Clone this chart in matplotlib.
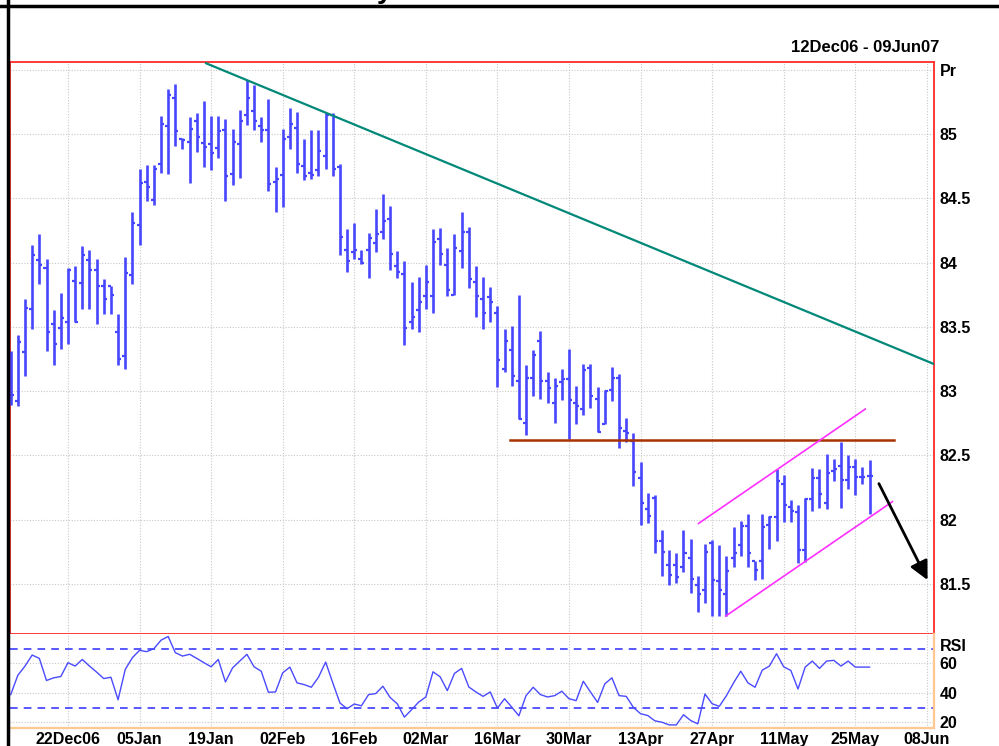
import matplotlib
matplotlib.use("Agg")
import matplotlib.pyplot as plt
from matplotlib.lines import Line2D

# daily bars 12Dec06 .. 29May07, x = weekday index
opens = [83.09, 82.92, 83.30, 83.64, 84.02, 83.96, 83.52, 83.49, 83.54, 83.86,
         83.84, 84.02, 83.94, 83.82, 83.82, 83.46, 83.27, 83.90, 84.29, 84.63,
         84.49, 84.77, 85.06, 85.28, 84.96, 84.94, 85.10, 84.93, 84.92, 84.89,
         85.03, 84.69, 84.92, 85.15, 85.18, 85.06, 85.03, 84.63, 84.68, 84.98,
         85.05, 84.75, 84.70, 84.72, 84.83, 85.15, 84.74, 84.10, 84.08, 84.03,
         84.10, 84.15, 84.24, 84.34, 83.97, 83.91, 83.54, 83.63, 83.74, 83.74,
         84.18, 83.98, 83.75, 84.09, 84.24, 83.85, 83.72, 83.73, 83.61, 83.17,
         83.32, 83.08, 82.75, 83.10, 83.39, 83.08, 82.91, 83.07, 83.09, 82.91,
         82.86, 83.18, 82.94, 82.74, 83.01, 83.10, 82.69, 82.61, 82.32, 82.08,
         82.17, 81.83, 81.65, 81.65, 81.63, 81.70, 81.49, 81.45, 81.82, 81.52,
         81.42, 81.70, 81.80, 81.95, 81.68, 81.68, 81.96, 82.02, 82.28, 82.10,
         82.06, 81.76, 82.16, 82.32, 82.13, 82.38, 82.42, 82.31, 82.41, 82.33,
         82.34]
highs = [83.31, 83.44, 83.72, 84.14, 84.22, 84.03, 83.63, 83.76, 83.96, 83.97,
         84.13, 84.10, 84.03, 83.87, 83.82, 83.60, 84.04, 84.39, 84.73, 84.76,
         84.76, 85.14, 85.35, 85.39, 84.97, 85.13, 85.16, 85.26, 85.14, 85.14,
         85.12, 85.04, 85.19, 85.42, 85.38, 85.13, 85.27, 84.74, 85.04, 85.20,
         85.17, 84.96, 85.03, 85.03, 85.16, 85.16, 84.77, 84.26, 84.31, 84.10,
         84.23, 84.42, 84.53, 84.44, 84.09, 84.01, 83.85, 83.89, 83.98, 84.26,
         84.27, 84.11, 84.22, 84.39, 84.28, 83.97, 83.89, 83.81, 83.66, 83.48,
         83.51, 83.75, 83.20, 83.32, 83.47, 83.15, 83.10, 83.17, 83.33, 83.04,
         83.21, 83.21, 83.03, 83.01, 83.19, 83.13, 82.79, 82.67, 82.45, 82.21,
         82.19, 81.92, 81.76, 81.74, 81.92, 81.85, 81.56, 81.81, 81.84, 81.80,
         81.72, 81.94, 81.99, 82.04, 81.68, 82.04, 82.03, 82.39, 82.35, 82.15,
         82.11, 82.17, 82.40, 82.39, 82.51, 82.47, 82.60, 82.50, 82.47, 82.41,
         82.46]
lows = [82.89, 82.88, 83.12, 83.48, 83.83, 83.31, 83.20, 83.33, 83.37, 83.54,
        83.64, 83.64, 83.52, 83.60, 83.60, 83.20, 83.17, 83.83, 84.14, 84.48,
        84.45, 84.70, 84.69, 84.91, 84.88, 84.62, 84.86, 84.74, 84.72, 84.81,
        84.48, 84.60, 84.66, 85.07, 85.03, 84.94, 84.56, 84.39, 84.43, 84.88,
        84.70, 84.64, 84.65, 84.67, 84.73, 84.67, 84.06, 83.93, 84.03, 83.99,
        83.88, 84.08, 84.18, 83.94, 83.88, 83.36, 83.48, 83.46, 83.64, 83.61,
        83.98, 83.74, 83.75, 83.96, 83.80, 83.58, 83.48, 83.54, 83.03, 83.15,
        83.04, 82.78, 82.66, 82.96, 82.94, 82.91, 82.75, 82.93, 82.63, 82.74,
        82.81, 82.87, 82.68, 82.74, 82.92, 82.56, 82.60, 82.26, 81.96, 81.97,
        81.74, 81.56, 81.49, 81.51, 81.59, 81.43, 81.28, 81.35, 81.25, 81.25,
        81.25, 81.63, 81.72, 81.63, 81.53, 81.54, 81.77, 81.83, 81.98, 81.98,
        81.66, 81.67, 82.07, 82.09, 82.08, 82.30, 82.09, 82.24, 82.19, 82.28,
        82.04]
closes = [82.97, 83.38, 83.65, 84.06, 83.98, 83.46, 83.37, 83.57, 83.94, 83.54,
          84.06, 83.94, 83.82, 83.72, 83.75, 83.25, 83.92, 84.31, 84.62, 84.59,
          84.73, 85.08, 85.30, 85.02, 84.95, 85.04, 84.98, 84.90, 84.85, 85.02,
          84.67, 84.94, 85.10, 85.28, 85.10, 85.03, 84.61, 84.65, 84.96, 85.08,
          84.77, 84.67, 84.68, 84.87, 85.15, 84.73, 84.20, 84.01, 84.10, 84.00,
          84.19, 84.22, 84.32, 84.07, 83.93, 83.49, 83.58, 83.69, 83.85, 84.16,
          84.07, 83.79, 84.11, 84.24, 83.87, 83.74, 83.61, 83.69, 83.24, 83.39,
          83.12, 82.78, 83.10, 83.28, 83.08, 83.02, 83.04, 83.09, 82.93, 82.88,
          83.16, 82.96, 82.68, 83.00, 83.10, 82.71, 82.67, 82.37, 82.13, 82.03,
          81.83, 81.75, 81.57, 81.55, 81.74, 81.54, 81.42, 81.75, 81.53, 81.45,
          81.60, 81.74, 81.95, 81.74, 81.61, 81.94, 82.02, 82.30, 82.11, 82.07,
          81.76, 82.16, 82.32, 82.20, 82.36, 82.39, 82.31, 82.41, 82.33, 82.33,
          82.34]
rsi = [38.8, 52.0, 58.2, 65.7, 63.4, 48.4, 50.2, 51.1, 60.5, 58.2,
       62.7, 58.2, 54.1, 49.7, 50.6, 35.3, 55.9, 63.9, 68.9, 68.0,
       70.0, 75.8, 78.3, 67.3, 65.0, 66.2, 63.4, 60.5, 57.7, 62.7,
       47.4, 57.0, 61.6, 66.2, 57.7, 54.7, 40.4, 40.6, 53.6, 57.5,
       46.8, 45.6, 43.8, 50.6, 60.9, 46.8, 33.1, 29.2, 32.4, 31.2,
       38.8, 39.5, 44.5, 36.9, 32.6, 23.5, 28.5, 33.7, 37.2, 54.3,
       50.9, 41.5, 53.2, 56.6, 44.0, 40.6, 37.6, 40.6, 29.6, 36.0,
       30.3, 24.4, 38.1, 43.8, 38.8, 37.2, 38.1, 41.1, 36.0, 34.7,
       47.9, 40.6, 33.5, 46.1, 50.2, 38.1, 37.6, 30.1, 25.8, 24.6,
       21.0, 20.0, 18.2, 18.2, 25.1, 21.2, 18.9, 39.2, 32.6, 30.8,
       38.1, 46.8, 54.7, 46.8, 43.8, 55.4, 58.2, 66.6, 57.7, 55.2,
       42.6, 57.5, 61.6, 56.6, 61.6, 62.1, 58.2, 61.6, 57.5, 57.5,
       57.5]

date_ticks = [8, 18, 28, 38, 48, 58, 68, 78, 88, 98, 108, 118, 128]
date_labels = ["22Dec06", "05Jan", "19Jan", "02Feb", "16Feb", "02Mar", "16Mar",
               "30Mar", "13Apr", "27Apr", "11May", "25May", "08Jun"]
price_ticks = [81.5, 82, 82.5, 83, 83.5, 84, 84.5, 85, 85.5]
price_labels = ["81.5", "82", "82.5", "83", "83.5", "84", "84.5", "85", "Pr"]
rsi_ticks = [20, 40, 60]

# hand drawn studies: (x index, price)
trend_down = [(27.3, 85.55), (129.0, 83.21)]
support = [(69.7, 82.62), (123.4, 82.62)]
channel_top = [(96.1, 81.97), (119.4, 82.86)]
channel_bot = [(99.9, 81.25), (123.2, 82.14)]
arrow_from = (121.3, 82.28)
arrow_to = (128.1, 81.53)

W, H = 999, 746
fig = plt.figure(figsize=(W / 100, H / 100), dpi=100)
font = "Liberation Sans"
bar_col = "#4646ff"
grid_kw = dict(color="#c8c8c8", linestyle=(0, (1, 1.5)), linewidth=0.8)

ax = fig.add_axes([10 / W, (H - 634) / H, 924 / W, 572 / H])
rx = fig.add_axes([10 / W, (H - 727.7) / H, 924 / W, 93.7 / H], sharex=ax)

xs = list(range(len(closes)))
ax.vlines(xs, lows, highs, color=bar_col, linewidth=1.9, zorder=3)
ax.hlines(opens, [x - 0.42 for x in xs], xs, color=bar_col, linewidth=1.6, zorder=3)
ax.hlines(closes, xs, [x + 0.42 for x in xs], color=bar_col, linewidth=1.6, zorder=3)

for pts, col, lw in [(trend_down, "#008878", 1.6), (support, "#a83200", 1.8),
                     (channel_top, "#ff30ff", 1.2), (channel_bot, "#ff30ff", 1.2)]:
    ax.plot([p[0] for p in pts], [p[1] for p in pts], color=col, linewidth=lw, zorder=4)
ax.annotate("", xy=arrow_to, xytext=arrow_from,
            arrowprops=dict(arrowstyle="-|>", color="black", lw=2, mutation_scale=28,
                            shrinkA=0, shrinkB=0), zorder=5)

ax.set_xlim(-0.1, 129.0)
ax.set_ylim(81.11, 85.56)
ax.set_yticks(price_ticks)
ax.set_yticklabels(price_labels)
ax.set_xticks(date_ticks)
ax.grid(True, **grid_kw)
ax.yaxis.tick_right()
ax.tick_params(axis="y", length=0, pad=4)
ax.tick_params(axis="x", length=0, labelbottom=False)
for s in ax.spines.values():
    s.set_color("#ff2a2a")
    s.set_linewidth(1.3)

rx.plot(xs, rsi, color="#4a4aff", linewidth=1.0, zorder=3)
rx.axhline(70, color="#2a2aff", linestyle=(0, (5, 4)), linewidth=1.1)
rx.axhline(30, color="#2a2aff", linestyle=(0, (5, 4)), linewidth=1.1)
rx.set_ylim(16.3, 80)
rx.set_yticks(rsi_ticks)
rx.set_xticks(date_ticks)
rx.set_xticklabels(date_labels)
rx.grid(True, **grid_kw)
rx.yaxis.tick_right()
rx.tick_params(axis="y", length=0, pad=4)
rx.tick_params(axis="x", length=0, pad=3)
rx.spines["top"].set_visible(False)
rx.spines["left"].set_visible(False)
for side in ["right", "bottom"]:
    rx.spines[side].set_color("#ffc890")
    rx.spines[side].set_linewidth(1.6)
rx.text(1.006, 0.87, "RSI", transform=rx.transAxes, ha="left", va="center",
        fontsize=11.5, fontweight="bold", family=font)

for a in (ax, rx):
    for lab in a.get_xticklabels() + a.get_yticklabels():
        lab.set_fontsize(11.5)
        lab.set_fontweight("bold")
        lab.set_family(font)

# frame and header (the title above is cropped, only a descender shows)
fig.add_artist(Line2D([8 / W, 8 / W], [0, 1], color="black", linewidth=2.5))
fig.add_artist(Line2D([0, 1], [1 - 5.5 / H, 1 - 5.5 / H], color="black", linewidth=2.5))
fig.text(385 / W, 1 + 2 / H, "y", ha="center", va="baseline", fontsize=20,
         fontweight="bold", family=font)
fig.text(939 / W, 1 - 48 / H, "12Dec06 - 09Jun07", ha="right", va="center",
         fontsize=12, fontweight="bold", family=font)

fig.savefig("out.png", dpi=100)
